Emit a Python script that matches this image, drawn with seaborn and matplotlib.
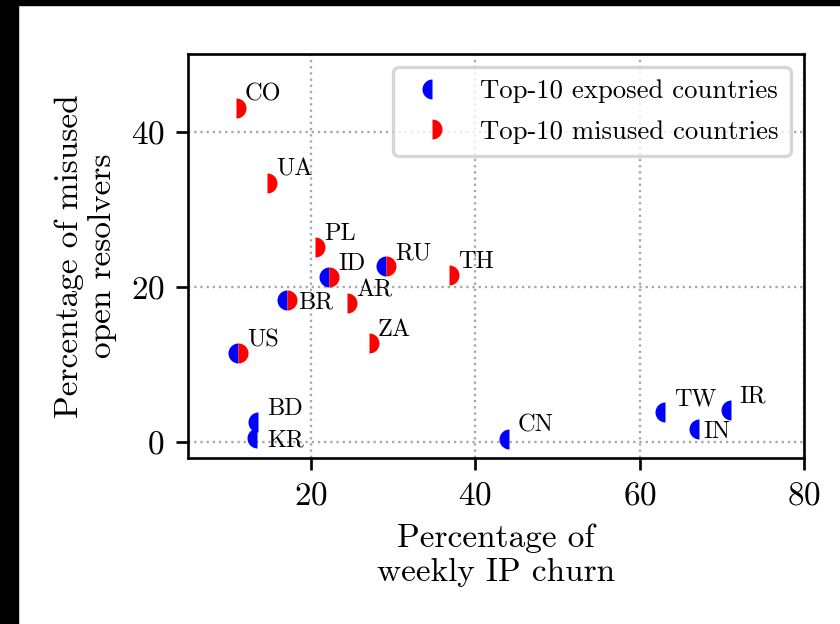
import matplotlib
matplotlib.use('Agg')
import matplotlib.pyplot as plt
import seaborn as sns
import pandas as pd
from matplotlib.markers import MarkerStyle
from matplotlib.lines import Line2D
from matplotlib.patches import Rectangle

# Country data
countries = ['CO', 'UA', 'PL', 'ID', 'RU', 'BR', 'AR', 'TH', 'ZA', 'US',
             'BD', 'KR', 'CN', 'TW', 'IR', 'IN']
ip_churn = [10.8, 14.6, 20.5, 22.2, 29.1, 17.0, 24.4, 36.8, 27.0, 11.1,
            13.5, 13.4, 44.1, 63.1, 71.1, 67.2]
misused_pct = [43.1, 33.4, 25.2, 21.3, 22.7, 18.3, 17.9, 21.5, 12.8, 11.5,
               2.6, 0.6, 0.5, 3.9, 4.2, 1.7]
top_exposed = ['ID', 'RU', 'BR', 'US', 'BD', 'KR', 'CN', 'TW', 'IR', 'IN']
top_misused = ['CO', 'UA', 'PL', 'ID', 'RU', 'BR', 'AR', 'TH', 'ZA', 'US']

# label placement (offset points), default is up-right
label_offsets = {'BR': (3.5, -2.6), 'KR': (3.0, -2.6), 'IN': (1.3, -2.7)}
default_offset = (2.7, 2.1)

df = pd.DataFrame({'country': countries, 'churn': ip_churn, 'misused': misused_pct})
exposed_df = df[df['country'].isin(top_exposed)]
misused_df = df[df['country'].isin(top_misused)]

plt.rcParams['font.family'] = ['cmr10', 'DejaVu Serif']
plt.rcParams['mathtext.fontset'] = 'cm'
plt.rcParams['axes.formatter.use_mathtext'] = True

fig = plt.figure(figsize=(3.5, 2.6), dpi=240, facecolor='black')
fig.patches.append(Rectangle((19 / 840, 0), 821 / 840, 618 / 624, transform=fig.transFigure,
                             facecolor='white', edgecolor='#cccccc', linewidth=0.3, zorder=-10))
ax = fig.add_axes([0.2238, 0.266, 0.7332, 0.6475])

left_half = MarkerStyle('o', fillstyle='left')
right_half = MarkerStyle('o', fillstyle='right')

sns.scatterplot(data=exposed_df, x='churn', y='misused', marker=left_half, color='blue',
                s=36, linewidth=0, zorder=3, ax=ax)
sns.scatterplot(data=misused_df, x='churn', y='misused', marker=right_half, color='red',
                s=36, linewidth=0, zorder=3, ax=ax)

for _, row in df.iterrows():
    off = label_offsets.get(row['country'], default_offset)
    ax.annotate(row['country'], (row['churn'], row['misused']), xytext=off,
                textcoords='offset points', ha='left', va='baseline', fontsize=7.3)

ax.set_xlim(5, 80)
ax.set_ylim(-2, 50)
ax.set_xticks([20, 40, 60, 80])
ax.set_yticks([0, 20, 40])
ax.tick_params(labelsize=10)
ax.grid(True, linestyle=':', color='#a8a8a8', linewidth=0.7)

ax.set_xlabel('Percentage of\nweekly IP churn', fontsize=10)
ax.set_ylabel('Percentage of misused\nopen resolvers', fontsize=10)

handles = [
    Line2D([], [], linestyle='none', marker='o', fillstyle='left', color='blue',
           markeredgewidth=0, markersize=6),
    Line2D([], [], linestyle='none', marker='o', fillstyle='right', color='red',
           markeredgewidth=0, markersize=6),
]
ax.legend(handles, ['Top-10 exposed countries', 'Top-10 misused countries'],
          loc='upper right', fontsize=8, labelspacing=0.63, borderpad=0.45)

fig.savefig('out.png', dpi=240, facecolor=fig.get_facecolor())
